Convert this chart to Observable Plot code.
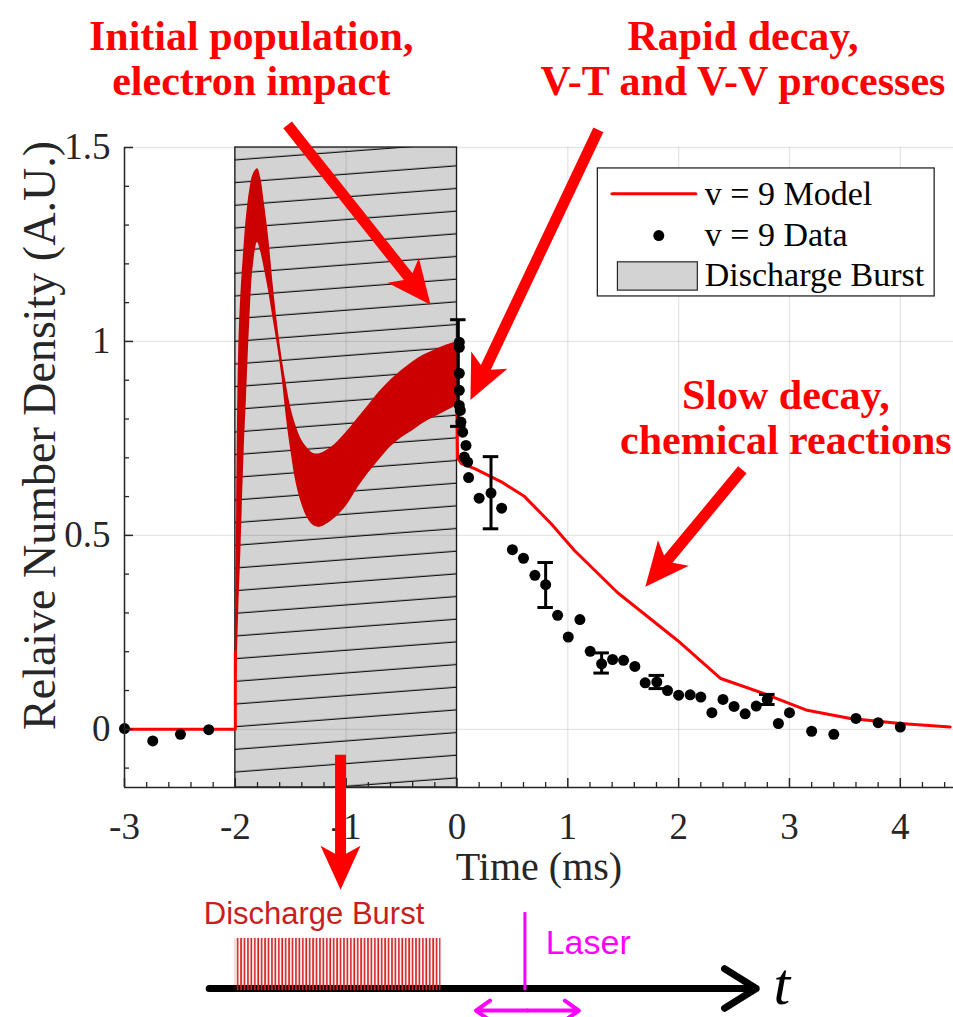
<!DOCTYPE html>
<html><head><meta charset="utf-8">
<script src="https://cdn.jsdelivr.net/npm/d3@7"></script>
<script src="https://cdn.jsdelivr.net/npm/@observablehq/plot@0.6"></script>
<style>
body{margin:0;background:#fff;}
#chart svg,#schem svg{display:block;}
</style></head><body><div id="chart"></div><div id="schem"></div>
<script>
// ---------- data ----------
const preX = [-3, -2, -2];
const preY = [0, 0, 0.2];

const bandX = [-2.0, -1.99, -1.97, -1.95, -1.92, -1.9, -1.87, -1.84, -1.8, -1.77, -1.74, -1.7, -1.66, -1.62, -1.58, -1.54, -1.5, -1.45, -1.4, -1.35, -1.3, -1.25, -1.2, -1.1, -1.0, -0.9, -0.8, -0.7, -0.6, -0.5, -0.4, -0.3, -0.2, -0.1, 0];
const bandUpper = [0.2, 0.5, 0.97, 1.12, 1.25, 1.32, 1.39, 1.43, 1.445, 1.42, 1.36, 1.27, 1.15, 1.046, 0.96, 0.89, 0.83, 0.78, 0.745, 0.725, 0.712, 0.71, 0.715, 0.735, 0.765, 0.80, 0.835, 0.87, 0.9, 0.925, 0.947, 0.965, 0.978, 0.99, 1.0];
const bandLower = [0.0, 0.1, 0.3, 0.46, 0.72, 0.85, 1.05, 1.19, 1.255, 1.23, 1.19, 1.13, 1.06, 0.99, 0.91, 0.805, 0.72, 0.633, 0.58, 0.545, 0.527, 0.521, 0.525, 0.545, 0.575, 0.62, 0.66, 0.695, 0.728, 0.752, 0.77, 0.79, 0.805, 0.82, 0.835];

const postX = [0, 0.005, 0.04, 0.16, 0.4, 0.61, 0.85, 1.06, 1.45, 1.99, 2.38, 2.77, 3.16, 3.55, 4.0, 4.45];
const postY = [0.835, 0.70, 0.685, 0.672, 0.638, 0.6, 0.53, 0.461, 0.352, 0.229, 0.131, 0.092, 0.049, 0.028, 0.015, 0.006];

const dataX = [-3.0, -2.745, -2.495, -2.24,
  0.021, 0.021, 0.021, 0.021, 0.021, 0.03, 0.036, 0.051, 0.081, 0.066, 0.096, 0.105, 0.2, 0.307, 0.403,
  0.50, 0.60, 0.703, 0.80, 0.908, 1.004, 1.109, 1.202, 1.305, 1.404, 1.503, 1.605, 1.698, 1.803, 1.90,
  2.0, 2.104, 2.2, 2.30, 2.40, 2.50, 2.60, 2.70, 2.80, 2.90, 3.0, 3.20, 3.40, 3.60, 3.80, 4.0];
const dataY = [0.002, -0.03, -0.013, -0.001,
  0.998, 0.985, 0.918, 0.874, 0.835, 0.822, 0.792, 0.766, 0.732, 0.702, 0.689, 0.649, 0.596, 0.609, 0.570,
  0.463, 0.441, 0.397, 0.373, 0.294, 0.238, 0.283, 0.201, 0.169, 0.180, 0.178, 0.162, 0.120, 0.122, 0.10,
  0.088, 0.089, 0.083, 0.043, 0.077, 0.059, 0.040, 0.060, 0.077, 0.015, 0.043, -0.005, -0.013, 0.028, 0.017, 0.006];

const errX = [0.012, 0.307, 0.80, 1.305, 1.803, 2.80];
const errLow = [0.781, 0.517, 0.314, 0.145, 0.105, 0.064];
const errHigh = [1.056, 0.703, 0.43, 0.197, 0.139, 0.09];

const burstStart = -2, burstEnd = 0;
const xTicks = [-3, -2, -1, 0, 1, 2, 3, 4];
const xMinor = [-2.8,-2.6,-2.4,-2.2,-1.8,-1.6,-1.4,-1.2,-0.8,-0.6,-0.4,-0.2,0.2,0.4,0.6,0.8,1.2,1.4,1.6,1.8,2.2,2.4,2.6,2.8,3.2,3.4,3.6,3.8,4.2,4.4];
const yTicks = [0, 0.5, 1, 1.5];
const yMinor = [-0.1,0.1,0.2,0.3,0.4,0.6,0.7,0.8,0.9,1.1,1.2,1.3,1.4];

const xLabel = "Time (ms)";
const yLabel = "Relaive Number Density (A.U.)";
const legendLabels = ["v = 9 Model", "v = 9 Data", "Discharge Burst"];

const annoText = ["Initial population,\nelectron impact", "Rapid decay,\nV-T and V-V processes", "Slow decay,\nchemical reactions"];
const annoX = [-1.857, 2.58, 2.967];
const annoY = [1.73, 1.73, 0.805];

const arrowFrom = [[-1.524, 1.557], [1.280, 1.544], [2.579, 0.668], [-1.046, -0.067]];
const arrowTo   = [[-0.234, 1.093], [0.126, 0.848], [1.704, 0.366], [-1.046, -0.415]];

// schematic
const schemBurstText = "Discharge Burst";
const schemLaserText = "Laser";
const schemT = "t";

// ---------- tables ----------
const band = bandX.map((x, i) => ({x, lo: bandLower[i], hi: bandUpper[i]}));
const pre = preX.map((x, i) => ({x, y: preY[i]}));
const post = postX.map((x, i) => ({x, y: postY[i]}));
const pts = dataX.map((x, i) => ({x, y: dataY[i]}));
const errs = errX.map((x, i) => ({x, lo: errLow[i], hi: errHigh[i]}));
const capHalf = 0.07;
const annos = annoText.map((t, i) => ({t, x: annoX[i], y: annoY[i]}));

const axisColor = "#262626";
const serif = "Liberation Serif, Times New Roman, serif";
const sans = "Liberation Sans, Arial, sans-serif";

// legend layout (data units)
const leg = {x1: 1.271, x2: 4.31, y1: 1.116, y2: 1.446, textX: 2.236, rows: [1.381, 1.273, 1.17]};

const plot = Plot.plot({
  width: 953, height: 895,
  marginLeft: 124, marginRight: 0, marginTop: 147, marginBottom: 108,
  x: {domain: [-3, 4.48]},
  y: {domain: [-0.15, 1.5]},
  style: {fontFamily: serif, background: "white", overflow: "visible", color: axisColor},
  marks: [
    Plot.rect([{x1: burstStart, x2: burstEnd}], {x1: "x1", x2: "x2", y1: -0.15, y2: 1.5, fill: "url(#hatch)", stroke: "#1a1a1a", strokeWidth: 1.3}),
    Plot.gridX(xTicks, {stroke: "#000", strokeOpacity: 0.1, strokeWidth: 1.3}),
    Plot.gridY(yTicks, {stroke: "#000", strokeOpacity: 0.1, strokeWidth: 1.3}),
    Plot.areaY(band, {x: "x", y1: "lo", y2: "hi", fill: "#cc0000", curve: "catmull-rom"}),
    Plot.line(pre, {x: "x", y: "y", stroke: "#ff0000", strokeWidth: 3}),
    Plot.line(post, {x: "x", y: "y", stroke: "#ff0000", strokeWidth: 3}),
    Plot.ruleX(errs, {x: "x", y1: "lo", y2: "hi", stroke: "black", strokeWidth: 3}),
    Plot.ruleY(errs, {y: "lo", x1: d => d.x - capHalf, x2: d => d.x + capHalf, stroke: "black", strokeWidth: 3}),
    Plot.ruleY(errs, {y: "hi", x1: d => d.x - capHalf, x2: d => d.x + capHalf, stroke: "black", strokeWidth: 3}),
    Plot.dot(pts, {x: "x", y: "y", r: 5.5, fill: "black"}),
    // axes
    Plot.ruleX([-3], {stroke: axisColor, strokeWidth: 1.5}),
    Plot.ruleY([-0.15], {stroke: axisColor, strokeWidth: 1.5}),
    Plot.axisX(xTicks, {tickSize: -9, tickPadding: 34, fontSize: 37, tickFormat: d => String(d), label: null, stroke: axisColor, strokeWidth: 1.5}),
    Plot.axisX(xMinor, {tickSize: -5, text: null, label: null, stroke: axisColor, strokeWidth: 1.3}),
    Plot.axisY(yTicks, {tickSize: -9, tickPadding: 23, fontSize: 37, tickFormat: d => String(d), label: null, stroke: axisColor, strokeWidth: 1.5}),
    Plot.axisY(yMinor, {tickSize: -5, text: null, label: null, stroke: axisColor, strokeWidth: 1.3}),
    Plot.text([xLabel], {frameAnchor: "bottom", dy: 92, fontSize: 40, fill: axisColor}),
    Plot.text([yLabel], {frameAnchor: "left", dx: -84, dy: -32, rotate: -90, textAnchor: "middle", fontSize: 46, fill: axisColor}),
    // legend
    Plot.rect([leg], {x1: "x1", x2: "x2", y1: "y1", y2: "y2", fill: "white", stroke: axisColor, strokeWidth: 1.3}),
    Plot.line([{x: 1.398, y: leg.rows[0]}, {x: 2.155, y: leg.rows[0]}], {x: "x", y: "y", stroke: "#ff0000", strokeWidth: 3}),
    Plot.dot([{x: 1.821, y: leg.rows[1]}], {x: "x", y: "y", r: 5.5, fill: "black"}),
    Plot.rect([{x1: 1.452, x2: 2.173, y1: 1.131, y2: 1.204}], {x1: "x1", x2: "x2", y1: "y1", y2: "y2", fill: "#d3d3d3", stroke: axisColor, strokeWidth: 1.2}),
    Plot.text(legendLabels, {x: leg.textX, y: (d, i) => leg.rows[i], text: d => d, textAnchor: "start", fontSize: 34, fill: "black"}),
    // annotations
    Plot.text(annos, {x: "x", y: "y", text: "t", fontSize: 42, fontWeight: "bold", fill: "#ff0000", lineHeight: 1.08})
  ]
});

// hatch pattern for the discharge burst rectangle
const defs = d3.select(plot).insert("defs", ":first-child");
const pat = defs.append("pattern").attr("id", "hatch").attr("patternUnits", "userSpaceOnUse")
  .attr("width", 600).attr("height", 22.67).attr("patternTransform", "skewY(-4.34)");
pat.append("rect").attr("width", 600).attr("height", 22.67).attr("fill", "#d3d3d3");
pat.append("line").attr("x1", 0).attr("x2", 600).attr("y1", 19.05).attr("y2", 19.05).attr("stroke", "#111").attr("stroke-width", 1.3);

// thick red annotation arrows, drawn with the plot's own scales
function drawArrows(svg, from, to, color) {
  const sx = svg.scale("x"), sy = svg.scale("y");
  const g = d3.select(svg).append("g");
  from.forEach((f, i) => {
    const X1 = sx.apply(f[0]), Y1 = sy.apply(f[1]);
    const X2 = sx.apply(to[i][0]), Y2 = sy.apply(to[i][1]);
    const L = Math.hypot(X2 - X1, Y2 - Y1);
    const ux = (X2 - X1) / L, uy = (Y2 - Y1) / L;
    const nx = -uy, ny = ux;
    const head = 44, barb = 20, shaft = 5.5, notch = 36;
    const P = (a, b) => [X1 + ux * a + nx * b, Y1 + uy * a + ny * b];
    const poly = [P(0, shaft), P(L - notch, shaft), P(L - head, barb), P(L, 0), P(L - head, -barb), P(L - notch, -shaft), P(0, -shaft)];
    g.append("path").attr("d", "M" + poly.map(p => p.join(",")).join("L") + "Z").attr("fill", color);
  });
}
drawArrows(plot, arrowFrom, arrowTo, "#ff0000");
document.getElementById("chart").append(plot);

// ---------- schematic (discharge / laser timing) ----------
const schem = Plot.plot({
  width: 953, height: 122,
  marginLeft: 124, marginRight: 0, marginTop: 0, marginBottom: 0,
  x: {domain: [-3, 4.48], axis: null},
  y: {domain: [0, 1], axis: null},
  style: {background: "white", overflow: "visible"},
  marks: [
    Plot.text([schemBurstText], {x: -1.29, y: 0.85, fill: "#c81e1e", fontSize: 31, fontFamily: sans}),
    Plot.arrow([{x1: -2.236, x2: 2.70, y: 0.238}], {x1: "x1", x2: "x2", y1: "y", y2: "y", stroke: "black", strokeWidth: 7, headLength: 8, headAngle: 64}),
    Plot.rect([{x1: -2.0, x2: -0.144, y1: 0.22, y2: 0.648}], {x1: "x1", x2: "x2", y1: "y1", y2: "y2", fill: "url(#pulses)"}),
    Plot.ruleX([0.613], {y1: 0.22, y2: 0.86, stroke: "#ff00ff", strokeWidth: 3}),
    Plot.text([schemLaserText], {x: 0.80, y: 0.607, textAnchor: "start", fill: "#ff00ff", fontSize: 34, fontFamily: sans}),
    Plot.arrow([{a: 0.636, b: 0.171, y: 0.057}, {a: 0.636, b: 1.10, y: 0.057}], {x1: "a", x2: "b", y1: "y", y2: "y", stroke: "#ff00ff", strokeWidth: 4, headLength: 7, headAngle: 70}),
    Plot.text([schemT], {x: 2.93, y: 0.27, fontSize: 60, fontStyle: "italic", fontFamily: serif, fill: "black"})
  ]
});
const sdefs = d3.select(schem).insert("defs", ":first-child");
const sp = sdefs.append("pattern").attr("id", "pulses").attr("patternUnits", "userSpaceOnUse")
  .attr("width", 3.43).attr("height", 200);
sp.append("line").attr("x1", 1).attr("x2", 1).attr("y1", 0).attr("y2", 200).attr("stroke", "#d42020").attr("stroke-width", 1.7);
document.getElementById("schem").append(schem);
</script></body></html>
